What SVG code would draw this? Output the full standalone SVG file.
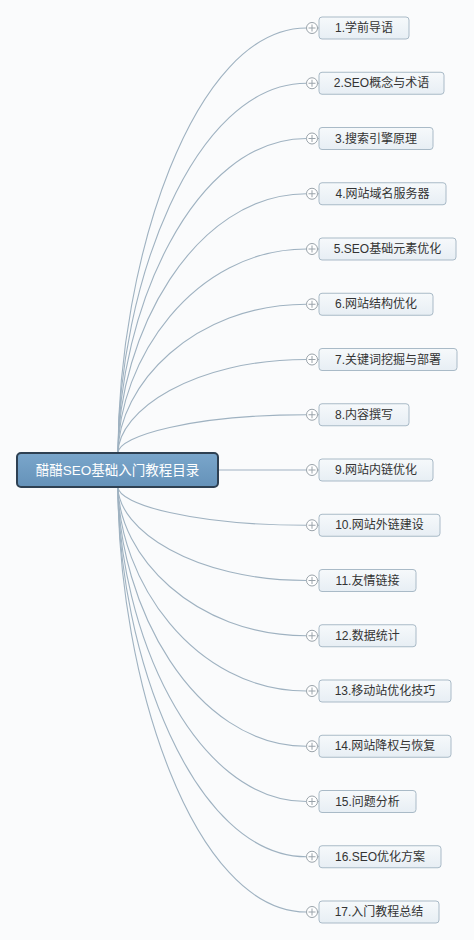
<svg xmlns="http://www.w3.org/2000/svg" width="474" height="940" viewBox="0 0 474 940">
<defs>
<linearGradient id="nodeFill" x1="0" y1="0" x2="0" y2="1">
<stop offset="0" stop-color="#f6f9fb"/>
<stop offset="1" stop-color="#e7eef4"/>
</linearGradient>
<linearGradient id="rootFill" x1="0" y1="0" x2="0" y2="1">
<stop offset="0" stop-color="#7aa6cb"/>
<stop offset="1" stop-color="#6592b9"/>
</linearGradient>
</defs>
<style>
.conn{fill:none;stroke:#9fb2c1;stroke-width:1.1}
.box{fill:url(#nodeFill);stroke:#a9bac7;stroke-width:1}
.lbl{font-family:"Liberation Sans","Noto Sans CJK SC",sans-serif;font-size:12px;fill:#333;text-anchor:middle}
.pc{fill:#fff;stroke:#9aa3aa;stroke-width:1}
.pl{stroke:#9aa3aa;stroke-width:1}
.root{fill:url(#rootFill);stroke:#2e4052;stroke-width:2}
.rlbl{font-family:"Liberation Sans","Noto Sans CJK SC",sans-serif;font-size:13.5px;fill:#fff;text-anchor:middle}
</style>
<rect width="474" height="940" fill="#fafbfc"/>
<g id="connectors">
<path class="conn" d="M118,453 C118,261.75 193,28 306.5,28"/>
<path class="conn" d="M118,453 C118,286.6 193,83.25 306.5,83.25"/>
<path class="conn" d="M118,453 C118,311.5 193,138.5 306.5,138.5"/>
<path class="conn" d="M118,453 C118,336.3 193,193.75 306.5,193.75"/>
<path class="conn" d="M118,453 C118,361.2 193,249 306.5,249"/>
<path class="conn" d="M118,453 C118,386.1 193,304.25 306.5,304.25"/>
<path class="conn" d="M118,453 C118,410.9 193,359.5 306.5,359.5"/>
<path class="conn" d="M118,453 C118,435.8 193,414.75 306.5,414.75"/>
<path class="conn" d="M218,470 L306.5,470"/>
<path class="conn" d="M118,487 C118,504.2 193,525.25 306.5,525.25"/>
<path class="conn" d="M118,487 C118,529.1 193,580.5 306.5,580.5"/>
<path class="conn" d="M118,487 C118,553.9 193,635.75 306.5,635.75"/>
<path class="conn" d="M118,487 C118,578.8 193,691 306.5,691"/>
<path class="conn" d="M118,487 C118,603.7 193,746.25 306.5,746.25"/>
<path class="conn" d="M118,487 C118,628.5 193,801.5 306.5,801.5"/>
<path class="conn" d="M118,487 C118,653.4 193,856.75 306.5,856.75"/>
<path class="conn" d="M118,487 C118,678.25 193,912 306.5,912"/>
</g>
<g id="root">
<rect class="root" x="17" y="453" width="201" height="34" rx="4"/>
<text class="rlbl" x="117.5" y="475">醋醋SEO基础入门教程目录</text>
</g>
<g id="n1" transform="translate(0,28)">
<line class="pl" x1="317.5" y1="0" x2="319" y2="0"/><circle class="pc" cx="312" cy="0" r="5.5"/><path class="pl" d="M308.5,0H315.5M312,-3.5V3.5"/>
<rect class="box" x="319" y="-11" width="90" height="22" rx="3"/><text class="lbl" x="364" y="4">1.学前导语</text>
</g>
<g id="n2" transform="translate(0,83.25)">
<line class="pl" x1="317.5" y1="0" x2="319" y2="0"/><circle class="pc" cx="312" cy="0" r="5.5"/><path class="pl" d="M308.5,0H315.5M312,-3.5V3.5"/>
<rect class="box" x="319" y="-11" width="125" height="22" rx="3"/><text class="lbl" x="381.5" y="4">2.SEO概念与术语</text>
</g>
<g id="n3" transform="translate(0,138.5)">
<line class="pl" x1="317.5" y1="0" x2="319" y2="0"/><circle class="pc" cx="312" cy="0" r="5.5"/><path class="pl" d="M308.5,0H315.5M312,-3.5V3.5"/>
<rect class="box" x="319" y="-11" width="114" height="22" rx="3"/><text class="lbl" x="376" y="4">3.搜索引擎原理</text>
</g>
<g id="n4" transform="translate(0,193.75)">
<line class="pl" x1="317.5" y1="0" x2="319" y2="0"/><circle class="pc" cx="312" cy="0" r="5.5"/><path class="pl" d="M308.5,0H315.5M312,-3.5V3.5"/>
<rect class="box" x="319" y="-11" width="127" height="22" rx="3"/><text class="lbl" x="382.5" y="4">4.网站域名服务器</text>
</g>
<g id="n5" transform="translate(0,249)">
<line class="pl" x1="317.5" y1="0" x2="319" y2="0"/><circle class="pc" cx="312" cy="0" r="5.5"/><path class="pl" d="M308.5,0H315.5M312,-3.5V3.5"/>
<rect class="box" x="319" y="-11" width="137" height="22" rx="3"/><text class="lbl" x="387.5" y="4">5.SEO基础元素优化</text>
</g>
<g id="n6" transform="translate(0,304.25)">
<line class="pl" x1="317.5" y1="0" x2="319" y2="0"/><circle class="pc" cx="312" cy="0" r="5.5"/><path class="pl" d="M308.5,0H315.5M312,-3.5V3.5"/>
<rect class="box" x="319" y="-11" width="114" height="22" rx="3"/><text class="lbl" x="376" y="4">6.网站结构优化</text>
</g>
<g id="n7" transform="translate(0,359.5)">
<line class="pl" x1="317.5" y1="0" x2="319" y2="0"/><circle class="pc" cx="312" cy="0" r="5.5"/><path class="pl" d="M308.5,0H315.5M312,-3.5V3.5"/>
<rect class="box" x="319" y="-11" width="138" height="22" rx="3"/><text class="lbl" x="388" y="4">7.关键词挖掘与部署</text>
</g>
<g id="n8" transform="translate(0,414.75)">
<line class="pl" x1="317.5" y1="0" x2="319" y2="0"/><circle class="pc" cx="312" cy="0" r="5.5"/><path class="pl" d="M308.5,0H315.5M312,-3.5V3.5"/>
<rect class="box" x="319" y="-11" width="90" height="22" rx="3"/><text class="lbl" x="364" y="4">8.内容撰写</text>
</g>
<g id="n9" transform="translate(0,470)">
<line class="pl" x1="317.5" y1="0" x2="319" y2="0"/><circle class="pc" cx="312" cy="0" r="5.5"/><path class="pl" d="M308.5,0H315.5M312,-3.5V3.5"/>
<rect class="box" x="319" y="-11" width="114" height="22" rx="3"/><text class="lbl" x="376" y="4">9.网站内链优化</text>
</g>
<g id="n10" transform="translate(0,525.25)">
<line class="pl" x1="317.5" y1="0" x2="319" y2="0"/><circle class="pc" cx="312" cy="0" r="5.5"/><path class="pl" d="M308.5,0H315.5M312,-3.5V3.5"/>
<rect class="box" x="319" y="-11" width="121" height="22" rx="3"/><text class="lbl" x="379.5" y="4">10.网站外链建设</text>
</g>
<g id="n11" transform="translate(0,580.5)">
<line class="pl" x1="317.5" y1="0" x2="319" y2="0"/><circle class="pc" cx="312" cy="0" r="5.5"/><path class="pl" d="M308.5,0H315.5M312,-3.5V3.5"/>
<rect class="box" x="319" y="-11" width="97" height="22" rx="3"/><text class="lbl" x="367.5" y="4">11.友情链接</text>
</g>
<g id="n12" transform="translate(0,635.75)">
<line class="pl" x1="317.5" y1="0" x2="319" y2="0"/><circle class="pc" cx="312" cy="0" r="5.5"/><path class="pl" d="M308.5,0H315.5M312,-3.5V3.5"/>
<rect class="box" x="319" y="-11" width="97" height="22" rx="3"/><text class="lbl" x="367.5" y="4">12.数据统计</text>
</g>
<g id="n13" transform="translate(0,691)">
<line class="pl" x1="317.5" y1="0" x2="319" y2="0"/><circle class="pc" cx="312" cy="0" r="5.5"/><path class="pl" d="M308.5,0H315.5M312,-3.5V3.5"/>
<rect class="box" x="319" y="-11" width="132" height="22" rx="3"/><text class="lbl" x="385" y="4">13.移动站优化技巧</text>
</g>
<g id="n14" transform="translate(0,746.25)">
<line class="pl" x1="317.5" y1="0" x2="319" y2="0"/><circle class="pc" cx="312" cy="0" r="5.5"/><path class="pl" d="M308.5,0H315.5M312,-3.5V3.5"/>
<rect class="box" x="319" y="-11" width="132" height="22" rx="3"/><text class="lbl" x="385" y="4">14.网站降权与恢复</text>
</g>
<g id="n15" transform="translate(0,801.5)">
<line class="pl" x1="317.5" y1="0" x2="319" y2="0"/><circle class="pc" cx="312" cy="0" r="5.5"/><path class="pl" d="M308.5,0H315.5M312,-3.5V3.5"/>
<rect class="box" x="319" y="-11" width="97" height="22" rx="3"/><text class="lbl" x="367.5" y="4">15.问题分析</text>
</g>
<g id="n16" transform="translate(0,856.75)">
<line class="pl" x1="317.5" y1="0" x2="319" y2="0"/><circle class="pc" cx="312" cy="0" r="5.5"/><path class="pl" d="M308.5,0H315.5M312,-3.5V3.5"/>
<rect class="box" x="319" y="-11" width="122" height="22" rx="3"/><text class="lbl" x="380" y="4">16.SEO优化方案</text>
</g>
<g id="n17" transform="translate(0,912)">
<line class="pl" x1="317.5" y1="0" x2="319" y2="0"/><circle class="pc" cx="312" cy="0" r="5.5"/><path class="pl" d="M308.5,0H315.5M312,-3.5V3.5"/>
<rect class="box" x="319" y="-11" width="120" height="22" rx="3"/><text class="lbl" x="379" y="4">17.入门教程总结</text>
</g>
</svg>
